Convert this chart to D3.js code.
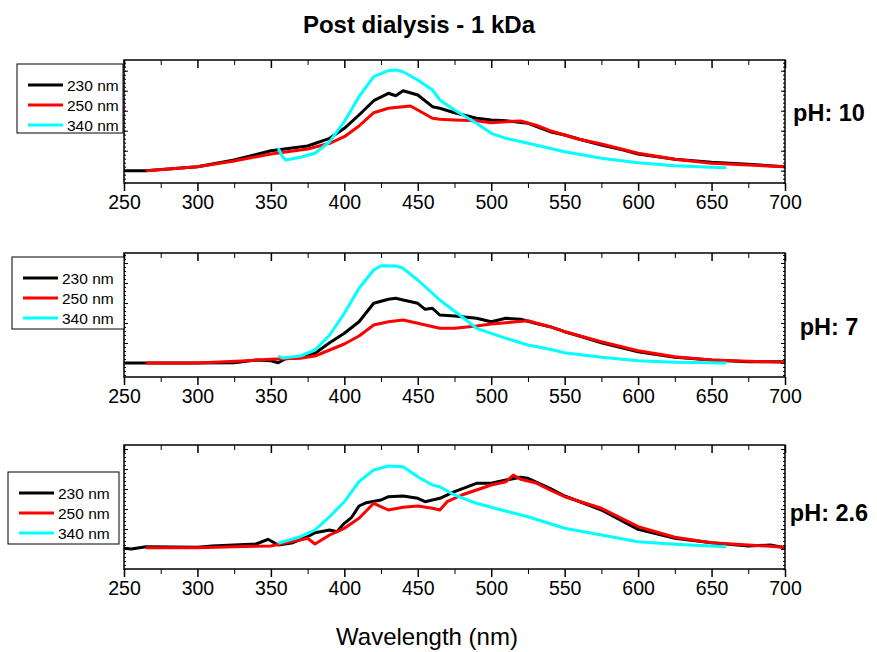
<!DOCTYPE html>
<html>
<head>
<meta charset="utf-8">
<script src="https://cdn.jsdelivr.net/npm/d3@7"></script>
<style>
  body { margin: 0; background: #fff; }
  text { font-family: Arial, "Liberation Sans", sans-serif; }
</style>
</head>
<body>
<div id="chart"></div>
<script>
// Post dialysis - 1 kDa : emission spectra at three excitation wavelengths, three pH values
let w = 877
let h = 652

let excitations = ["230 nm", "250 nm", "340 nm"];
let lineColors = ["#000000", "#ff0000", "#00ffff"];
let xTicks = [250, 300, 350, 400, 450, 500, 550, 600, 650, 700];
let phLabels = ["pH: 10", "pH: 7", "pH: 2.6"];

// intensity (a.u.), [wavelength, intensity]
// pH 10
let ph10_230 = [[250,0],[265,0],[300,4],[325,10.7],[350,20],[375,24.7],[390,32.4],[400,42.4],[410,55.7],[420,70],[430,77.4],[435,75],[440,80],[450,75.7],[460,64],[465,62.4],[475,58],[490,52.4],[500,50.7],[510,50],[525,47.4],[530,44.7],[540,39],[550,35.7],[560,31.4],[575,25.7],[590,20.7],[600,16.7],[625,11.4],[650,8.4],[675,6.4],[700,4]];
let ph10_250 = [[265,0],[300,4],[325,9.7],[350,16.7],[375,21.7],[390,27.4],[400,34],[410,44.7],[420,58],[430,62.4],[440,64],[445,64.7],[450,60.7],[460,52.4],[465,51.4],[475,50.7],[490,50],[500,48],[510,49],[520,49.7],[530,45.7],[540,40],[550,35.7],[560,31.4],[575,26.7],[600,17.4],[625,11.4],[650,7.4],[675,5.7],[700,4]];
let ph10_340 = [[355,22.4],[358,14],[360,10.7],[370,13.4],[380,17.4],[390,29],[400,49],[410,74],[420,94],[430,100],[435,100.7],[440,99],[450,90.7],[460,80.7],[465,70.7],[475,60.7],[490,47.4],[500,37.4],[510,32.4],[525,27.4],[550,19],[575,12.4],[600,8],[625,5],[650,3.4],[660,3]];
// pH 7
let ph7_230 = [[250,0],[300,0],[325,0.3],[340,3],[350,2.3],[355,0.3],[360,4.3],[370,5.7],[380,9.7],[390,20.3],[400,29.7],[410,41.3],[420,59.7],[430,63.7],[435,64.7],[440,63],[450,59.7],[455,53.7],[460,54.7],[465,48],[475,47],[490,44.7],[500,41.3],[510,44.7],[520,43.7],[530,39.7],[540,36.3],[550,31.3],[560,27],[575,20.3],[600,11.3],[625,5.7],[650,3],[675,1.3],[700,1.3]];
let ph7_250 = [[265,0],[300,0],[330,2],[350,3.7],[370,4.7],[380,7],[390,13],[400,19],[410,27],[420,38],[430,41.3],[440,43],[450,39.7],[465,34.7],[475,34.7],[490,37],[500,39],[510,40.3],[525,42.3],[540,36.3],[550,31.3],[575,21.3],[600,12.3],[625,6.3],[650,3],[700,0.7]];
let ph7_340 = [[355,7],[358,5],[370,7],[380,13],[390,28],[400,49.7],[410,74.7],[420,93],[425,97.3],[435,97],[440,94.7],[450,83],[465,63],[480,46.3],[490,34.7],[500,29.7],[510,24.7],[525,18],[540,13.7],[550,10.3],[575,5.7],[600,2.3],[625,0.7],[660,0]];
// pH 2.6
let ph26_230 = [[250,0.7],[255,0],[265,2.3],[300,1.7],[310,3],[325,4],[340,5],[348,9.7],[355,4],[365,6.3],[375,12.3],[380,16.3],[390,19],[395,17.3],[400,25.7],[405,31.7],[410,43],[415,46.3],[425,49],[430,52.3],[440,53],[450,50.7],[455,47.3],[465,50.7],[475,57.3],[490,65.7],[500,65.7],[510,69],[520,71.7],[525,70.7],[540,60.7],[550,53],[575,39],[600,19.7],[625,10.7],[650,6.3],[675,3],[690,4],[700,1.3]];
let ph26_250 = [[265,1.3],[300,1.3],[325,2.3],[350,3],[360,6.3],[370,9],[375,10.7],[380,5],[390,14],[400,20.7],[410,30.7],[420,45.7],[430,39],[440,41.7],[450,43],[460,40.7],[465,39],[470,47.3],[480,54],[490,59],[500,64],[510,67.3],[515,74],[520,69.7],[530,66.3],[540,59],[550,52.3],[575,40.7],[600,22.3],[625,11.7],[650,6.3],[675,4],[700,1.7]];
let ph26_340 = [[355,5.7],[370,12.3],[380,19],[390,32.3],[400,47.3],[410,67.3],[420,79],[430,83],[440,82.3],[450,72.3],[460,64],[465,62.3],[475,54],[490,45.7],[500,41.7],[525,32.3],[550,20.7],[575,14],[600,7.3],[625,4.7],[660,2.3]];

let panelSeries = [
  [ph10_230, ph10_250, ph10_340],
  [ph7_230, ph7_250, ph7_340],
  [ph26_230, ph26_250, ph26_340]
];

// layout of each panel (pixels) and its y domain
let panels = [
  {top: 60,  bottom: 183, ymin: -12.3, ymax: 110.7, legX: 17, legY: 64,  legW: 106, legH: 69, ph: 113},
  {top: 253, bottom: 377, ymin: -14,   ymax: 110,   legX: 12, legY: 257, legW: 112, legH: 72, ph: 327},
  {top: 445, bottom: 569, ymin: -20,   ymax: 104,   legX: 8,  legY: 472, legW: 111, legH: 72, ph: 513}
];
let plotLeft = 124, plotRight = 785;

let svg = d3.select("#chart")
  .append("svg")
  .attr("width", w)
  .attr("height", h);

let x = d3.scaleLinear().domain([250, 700]).range([plotLeft, plotRight]);

svg.append("text")
  .attr("x", 419).attr("y", 33)
  .attr("text-anchor", "middle")
  .style("font-size", "24px").style("font-weight", "bold")
  .text("Post dialysis - 1 kDa");

svg.append("text")
  .attr("x", 427).attr("y", 645)
  .attr("text-anchor", "middle")
  .style("font-size", "24px")
  .text("Wavelength (nm)");

panels.forEach((p, pi) => {
  let y = d3.scaleLinear().domain([p.ymin, p.ymax]).range([p.bottom, p.top]);
  let g = svg.append("g");

  // curves
  let line = d3.line().x(d => x(d[0])).y(d => y(d[1]));
  panelSeries[pi].forEach((s, si) => {
    g.append("path")
      .datum(s)
      .attr("d", line)
      .attr("fill", "none")
      .attr("stroke", lineColors[si])
      .attr("stroke-width", 3)
      .attr("stroke-linejoin", "round");
  });

  // bottom axis with labels, outward ticks
  let minor = d3.range(275, 700, 50);
  g.append("g")
    .attr("transform", "translate(0," + p.bottom + ")")
    .call(d3.axisBottom(x).tickValues(minor).tickSize(5).tickFormat(""))
    .call(a => a.select(".domain").remove());
  let bx = g.append("g")
    .attr("transform", "translate(0," + p.bottom + ")")
    .call(d3.axisBottom(x).tickValues(xTicks).tickSize(8).tickPadding(4).tickFormat(d3.format("d")));
  bx.select(".domain").remove();
  bx.selectAll("text").style("font-size", "19.5px").attr("fill", "#000");
  bx.selectAll("line").attr("stroke-width", 1.5);

  // top axis, inward ticks
  let tx = g.append("g")
    .attr("transform", "translate(0," + p.top + ")")
    .call(d3.axisBottom(x).tickValues(xTicks).tickSize(8).tickFormat(""));
  tx.select(".domain").remove();
  tx.selectAll("line").attr("stroke-width", 1.5);
  g.append("g")
    .attr("transform", "translate(0," + p.top + ")")
    .call(d3.axisBottom(x).tickValues(minor).tickSize(5).tickFormat(""))
    .call(a => a.select(".domain").remove());

  // left/right small ticks (dotted look)
  let yMinor = d3.range(Math.ceil(p.ymin / 4) * 4, p.ymax, 4);
  let yMajor = d3.range(0, p.ymax, 20);
  [plotLeft, plotRight].forEach((px, k) => {
    let ax = k == 0 ? d3.axisRight(y) : d3.axisLeft(y);
    g.append("g").attr("transform", "translate(" + px + ",0)")
      .call(ax.tickValues(yMinor).tickSize(2).tickFormat(""))
      .call(a => a.select(".domain").remove());
    let ax2 = k == 0 ? d3.axisRight(y) : d3.axisLeft(y);
    g.append("g").attr("transform", "translate(" + px + ",0)")
      .call(ax2.tickValues(yMajor).tickSize(4).tickFormat(""))
      .call(a => a.select(".domain").remove());
  });

  // frame
  g.append("rect")
    .attr("x", plotLeft).attr("y", p.top)
    .attr("width", plotRight - plotLeft).attr("height", p.bottom - p.top)
    .attr("fill", "none").attr("stroke", "#000").attr("stroke-width", 1.5);

  // legend
  let leg = g.append("g").attr("transform", "translate(" + p.legX + "," + p.legY + ")");
  leg.append("rect")
    .attr("width", p.legW).attr("height", p.legH)
    .attr("fill", "#fff").attr("stroke", "#000").attr("stroke-width", 1);
  excitations.forEach((name, i) => {
    let yy = 21 + i * 20;
    leg.append("line")
      .attr("x1", 11).attr("x2", 46).attr("y1", yy).attr("y2", yy)
      .attr("stroke", lineColors[i]).attr("stroke-width", 3);
    leg.append("text")
      .attr("x", 50).attr("y", yy + 5.5)
      .style("font-size", "15.5px")
      .text(name);
  });

  // pH label
  svg.append("text")
    .attr("x", 829).attr("y", p.ph + 8)
    .attr("text-anchor", "middle")
    .style("font-size", "23.5px").style("font-weight", "bold")
    .text(phLabels[pi]);
});
</script>
</body>
</html>
